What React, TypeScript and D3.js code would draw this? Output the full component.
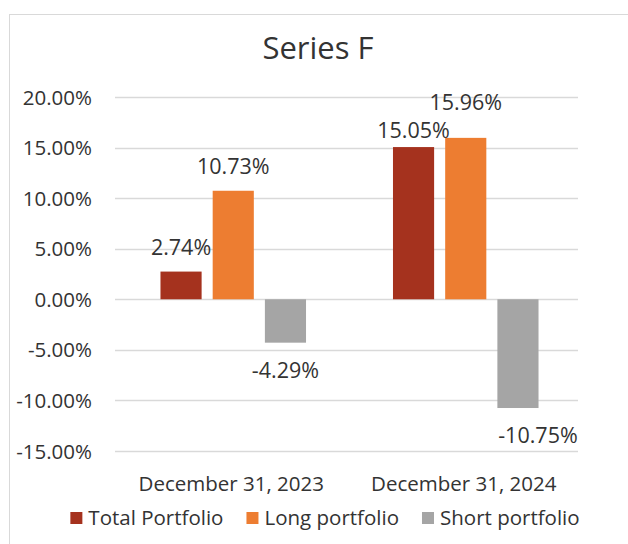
import React, { useEffect, useRef } from 'react';
import * as d3 from 'd3';

const title = 'Series F';
const categories = ['December 31, 2023', 'December 31, 2024'];
const seriesNames = ['Total Portfolio', 'Long portfolio', 'Short portfolio'];
const totalPortfolio = [2.74, 15.05];
const longPortfolio = [10.73, 15.96];
const shortPortfolio = [-4.29, -10.75];
const yTicks = [-15, -10, -5, 0, 5, 10, 15, 20];

const colors = ['#A5321E', '#ED7D31', '#A5A5A5'];
const font = '"Open Sans", sans-serif';
const textColor = '#333333';

// Excel nudged a few labels to avoid overlaps
const labelNudge: Record<string, [number, number]> = {
  '1-0': [0, 8],
  '1-1': [0, -11],
  '1-2': [20, 0],
};

const pct = (v: number) => v.toFixed(2) + '%';

const W = 628;
const H = 544;

export default function App() {
  const ref = useRef<SVGSVGElement>(null);

  useEffect(() => {
    const svg = d3.select(ref.current);
    svg.selectAll('*').remove();

    const values = [totalPortfolio, longPortfolio, shortPortfolio];

    // chart frame
    svg.append('rect')
      .attr('x', 9.5).attr('y', 14.5)
      .attr('width', W + 20).attr('height', H + 20)
      .attr('fill', 'white').attr('stroke', '#d9d9d9');

    svg.append('text')
      .attr('x', 318).attr('y', 59)
      .attr('text-anchor', 'middle')
      .attr('font-family', font).attr('font-size', 31)
      .attr('fill', textColor)
      .text(title);

    const y = d3.scaleLinear().domain([-15, 20]).range([451, 97]);
    const x0 = d3.scaleBand<string>().domain(categories).range([117, 582]).paddingInner(0.374).paddingOuter(0.187);
    const x1 = d3.scaleBand<string>().domain(seriesNames).range([0, x0.bandwidth()]).paddingInner(0.212);

    // gridlines + tick labels
    svg.append('g').selectAll('line').data(yTicks).enter().append('line')
      .attr('x1', 115).attr('x2', 578)
      .attr('y1', d => Math.round(y(d)) + 0.5).attr('y2', d => Math.round(y(d)) + 0.5)
      .attr('stroke', '#d9d9d9').attr('stroke-width', 1.3);

    svg.append('g').selectAll('text').data(yTicks).enter().append('text')
      .attr('x', 92).attr('y', d => y(d) + 7.5)
      .attr('text-anchor', 'end')
      .attr('font-family', font).attr('font-size', 20.5)
      .attr('fill', textColor)
      .text(d => pct(d));

    // bars
    seriesNames.forEach((s, si) => {
      const g = svg.append('g');
      g.selectAll('rect').data(categories).enter().append('rect')
        .attr('x', c => (x0(c) as number) + (x1(s) as number))
        .attr('width', x1.bandwidth())
        .attr('y', (c, ci) => y(Math.max(0, values[si][ci])))
        .attr('height', (c, ci) => Math.abs(y(values[si][ci]) - y(0)))
        .attr('fill', colors[si]);

      g.selectAll('text').data(categories).enter().append('text')
        .attr('x', (c, ci) => (x0(c) as number) + (x1(s) as number) + x1.bandwidth() / 2 + (labelNudge[ci + '-' + si]?.[0] ?? 0))
        .attr('y', (c, ci) => {
          const v = values[si][ci];
          const base = v >= 0 ? y(v) - 17 : y(v) + 35;
          return base + (labelNudge[ci + '-' + si]?.[1] ?? 0);
        })
        .attr('text-anchor', 'middle')
        .attr('font-family', font).attr('font-size', 21.5)
        .attr('fill', textColor)
        .text((c, ci) => pct(values[si][ci]));
    });

    // category labels
    svg.append('g').selectAll('text').data(categories).enter().append('text')
      .attr('x', c => (x0(c) as number) + x0.bandwidth() / 2 - 2)
      .attr('y', 491)
      .attr('text-anchor', 'middle')
      .attr('font-family', font).attr('font-size', 20.5)
      .attr('fill', textColor)
      .text(c => c);

    // legend
    const legend = svg.append('g');
    let cx = 0;
    seriesNames.forEach((s, si) => {
      const item = legend.append('g');
      item.append('rect').attr('x', 0).attr('y', -13).attr('width', 12).attr('height', 12).attr('fill', colors[si]);
      const t = item.append('text')
        .attr('x', 18).attr('y', 0)
        .attr('font-family', font).attr('font-size', 20.5)
        .attr('fill', textColor)
        .text(s);
      const w = 18 + (t.node() as SVGTextElement).getComputedTextLength();
      item.attr('transform', `translate(${cx},525)`);
      cx += w + 23;
    });
    const totalW = cx - 23;
    legend.attr('transform', `translate(${325 - totalW / 2},0)`);
  }, []);

  return (
    <svg ref={ref} width={W} height={H} style={{ position: 'absolute', left: 0, top: 0, background: 'white' }} />
  );
}
